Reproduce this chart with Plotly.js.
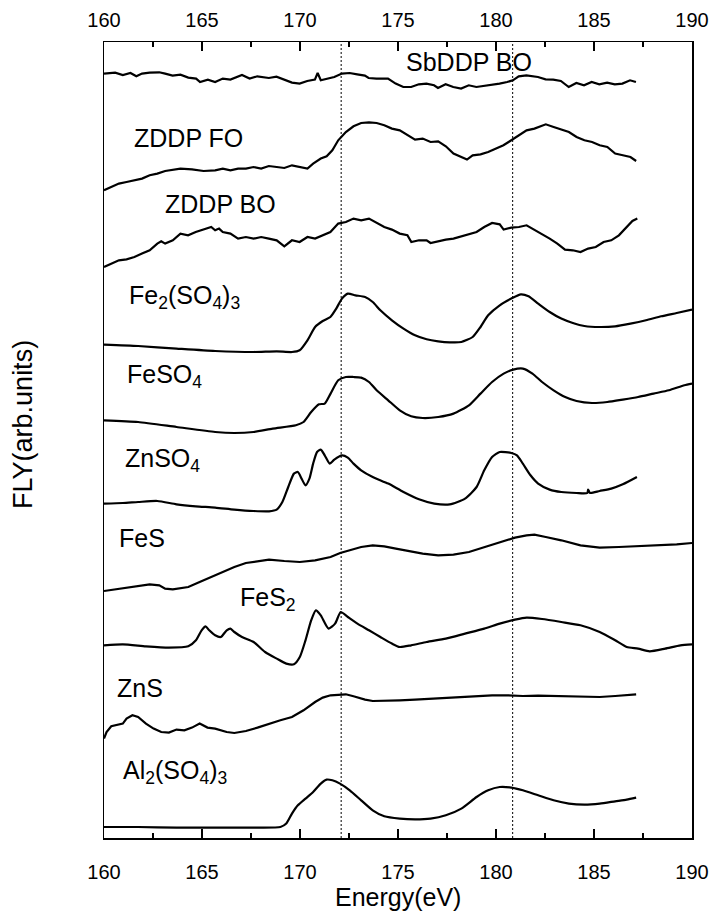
<!DOCTYPE html>
<html>
<head>
<meta charset="utf-8">
<script src="https://cdn.plot.ly/plotly-3.0.1.min.js"></script>
<style>
  html, body { margin: 0; padding: 0; background: #fff; }
  #chart { width: 712px; height: 911px; }
</style>
</head>
<body>
<div id="chart"></div>
<script>
// S L-edge XANES spectra (fluorescence yield), stacked with vertical offsets.
// Energies in eV, intensities in arbitrary units (offset included).

const sbddpBoEnergy = [160.0,160.57,160.96,161.35,161.65,161.94,162.33,162.82,163.12,163.5,163.9,164.3,164.7,164.9,165.3,165.67,166.06,166.45,167.04,167.43,167.82,168.41,168.8,169.2,169.59,169.98,170.37,170.76,170.9,171.06,171.35,171.75,172.14,172.53,172.92,173.31,173.5,173.9,174.49,174.88,175.27,175.67,176.06,176.45,176.84,177.04,177.43,177.82,178.22,178.61,179.0,179.39,179.78,180.18,180.57,180.86,181.16,181.55,182.14,182.53,182.92,183.31,183.71,184.1,184.49,184.88,185.27,185.67,186.06,186.45,186.84,187.14];
const sbddpBoFly = [764.4,765.4,763,765,761.7,764.4,765.4,765.7,764.4,762.4,763.4,760.4,759.4,756,758.4,756,759.4,758.4,763,759.4,761.7,760,761.4,758.4,755.4,754.4,757,758.4,765,757.7,759.4,761,764.4,765,763.7,762.4,760,759.4,759.4,754.4,751,751,753.7,754.4,752.7,750,753.7,751,749.4,752.7,751,752,752.7,754.4,756,757.7,761.7,762.7,761,758.7,758.4,757,751,755,752.7,756,753.7,755.4,753.7,754.4,757.7,756];

const zddpFoEnergy = [160.0,160.37,160.76,161.15,161.55,161.94,162.33,162.72,163.12,163.51,163.9,164.49,165.08,165.67,166.06,166.45,166.84,167.24,167.63,168.02,168.41,168.81,169.2,169.59,169.98,170.38,170.67,171.06,171.36,171.65,171.95,172.34,172.73,173.12,173.52,173.91,174.3,174.69,175.09,175.48,175.87,176.26,176.66,177.05,177.44,177.83,178.23,178.52,178.81,179.21,179.6,179.99,180.38,180.78,181.17,181.56,181.96,182.35,182.54,182.94,183.33,183.72,184.11,184.51,184.9,185.29,185.68,186.08,186.47,186.86,187.15];
const zddpFoFly = [647.7,651,654.4,656,657.7,659.4,662.7,664.4,667,668.4,669.4,668.7,667,667.7,669.4,667.7,669.4,669.4,671,669.4,672,671,670,672.7,671,669.4,674.4,679.4,681.7,687.7,697.7,706,711.7,715,715.7,715,712.7,709.4,707.7,702.7,698.4,699.4,696,696.7,691.7,684.4,681,678.4,682.7,683.7,686,689.4,692.7,697.7,702.7,707.7,709.4,712.7,713.7,711,708.4,706,701,697.7,696,692.7,691,684.4,682.7,681,677];

const zddpBoEnergy = [160.0,160.37,160.76,161.15,161.55,161.94,162.33,162.72,162.92,163.12,163.51,163.9,164.29,164.68,165.08,165.28,165.47,165.67,165.87,166.06,166.45,166.84,167.24,167.63,168.02,168.41,168.81,169.2,169.59,169.98,170.38,170.77,171.16,171.55,171.95,172.34,172.73,173.12,173.52,173.91,174.3,174.69,175.09,175.48,175.68,176.07,176.46,176.66,177.05,177.44,177.83,178.23,178.62,179.01,179.4,179.8,180.19,180.39,180.78,181.17,181.56,181.96,182.35,182.74,183.13,183.52,183.92,184.31,184.7,185.09,185.49,185.88,186.27,186.66,186.96,187.21];
const zddpBoFly = [571,574.4,577.7,578.7,581,584.4,587.7,594.4,596.7,594.4,597.7,604.4,602.7,606,608.4,609.4,611,607.7,609.4,606,604.4,599.4,601,599.4,601,599.4,597.7,591.7,597.7,596,601,599.4,602.7,606,614.4,616,619.4,617.7,619.4,615,611,608.4,604.4,602.7,596,597.7,597.7,595,597,598.4,599.4,601.7,604.4,606,611,615,613.7,608.4,610.4,611,612.7,608.4,604.4,599.4,594.4,588.4,587.7,586,589.4,591,596,597.7,602.7,611,617,619.4];

const fe2so43Energy = [160.0,161.74,163.7,165.67,167.63,168.81,169.59,169.98,170.38,170.77,171.16,171.55,171.85,172.14,172.44,172.83,173.32,173.71,174.1,174.69,175.28,175.87,176.46,177.05,177.64,178.23,178.81,179.21,179.6,180.19,180.78,181.27,181.66,182.15,182.74,183.33,183.92,184.51,185.29,186.08,186.86,187.65,188.43,189.22,190.0];
const fe2so43Fly = [493.4,492,489.4,487,486,486.7,486,487.7,497.7,511,517,521,529.4,539.4,544.4,542.7,541,536,527.7,517.7,509.4,502.7,498.7,496.7,495.7,496,501,511,522.7,532.7,539.4,543.7,541.7,534.4,526,519.4,515,512,511,511.7,514.4,517.7,521.7,525,528.4];

const feso4Energy = [160.0,161.74,163.7,165.67,166.65,167.63,168.61,169.79,170.18,170.57,170.97,171.26,171.56,171.95,172.34,172.73,173.12,173.52,173.91,174.5,175.09,175.67,176.26,177.05,177.83,178.62,179.21,179.8,180.39,180.88,181.37,181.86,182.35,182.94,183.53,184.11,184.9,185.68,186.47,187.25,188.04,188.82,189.61,190.0];
const feso4Fly = [417.7,416,411,406,405,406,409.4,412.7,416,426,433.7,434.4,444.4,457.7,461,461,460.4,456,447.7,437.7,427.7,421.7,420,421,424.4,432.7,444.4,456,464.4,468.4,469.4,464.4,456,447.7,441,437,435,436,438.4,441,444.4,447.7,452.7,454.4];

const znso4Energy = [160.0,160.96,161.74,162.72,163.7,164.68,165.67,166.65,167.63,168.42,168.81,169.1,169.4,169.69,169.89,170.08,170.28,170.48,170.67,170.87,171.06,171.26,171.52,171.75,172.14,172.44,172.73,173.12,173.71,174.5,175.28,176.07,176.85,177.64,178.42,179.01,179.4,179.8,180.19,180.78,181.07,181.37,181.76,182.15,182.74,183.33,184.11,184.66,184.7,184.8,185.29,185.88,186.47,187.19];
const znso4Fly = [334.4,335,336,337,333.7,331.7,330.4,328.4,327,326.7,328.4,336,351,364.4,366,359.4,352.7,359.4,374.4,386,388.4,382.7,374.4,378.4,382.7,380.4,374.4,367.7,361,354.4,346,338.7,334.4,333.7,339.4,351,367.7,381,386,385,382.7,374.4,362.7,354.4,348.4,346,345,345,348.4,345,347,349.4,353.7,361];

const fesEnergy = [160.0,160.76,161.74,162.33,162.82,163.12,163.51,164.3,164.88,165.47,166.06,166.65,167.24,167.83,168.42,169.2,169.99,170.77,171.56,172.05,172.54,173.12,173.71,174.3,174.89,175.48,176.26,177.05,177.83,178.62,179.4,180.19,180.97,181.56,181.96,182.54,183.33,184.31,185.29,186.27,187.25,188.24,189.22,190.0];
const fesFly = [247,249.4,252,253.7,252.7,249.4,248.7,251,256,261,266,271,275,277,278.4,277,276,277.7,281,285,287.7,291,292.7,291.7,289.4,287,284.4,282.7,283.4,286,291,296,300.4,302.7,303.4,301,297.7,292.7,290.4,291,291.7,292.7,293.7,295];

const fes2Energy = [160.0,160.96,162.14,163.31,164.3,164.69,164.98,165.18,165.37,165.67,165.96,166.26,166.45,166.65,167.04,167.63,168.22,168.81,169.3,169.69,169.99,170.28,170.57,170.81,171.06,171.46,171.79,172.08,172.44,172.93,173.52,174.1,174.69,175.09,175.67,176.46,177.44,178.42,179.4,180.19,180.97,181.56,182.35,183.33,184.31,185.29,186.08,186.67,187.25,187.84,188.63,189.41,190.0];
const fes2Fly = [192.7,193.7,191.7,190.4,191.7,197.7,207.7,211.7,207.7,202.7,201,207.7,209.4,206,201,196,186,179.4,174.4,173.7,181,197.7,217.7,227.7,222.7,209.4,214.4,226,221,214.4,207.7,201,194.4,191,192.7,196,199.4,204.4,209.4,214.4,218.4,220.4,219,216,212.7,206,197.7,191,189.4,186.7,189.4,192.7,193.7];

const znsEnergy = [160.0,160.13,160.37,160.66,160.96,161.15,161.45,161.74,162.14,162.53,162.92,163.31,163.7,164.1,164.49,164.88,165.28,165.67,166.26,166.65,167.24,167.83,168.42,169.0,169.59,170.18,170.77,171.16,171.56,171.95,172.34,172.73,173.32,173.71,174.3,175.09,175.87,176.66,177.44,178.23,179.01,179.8,180.58,181.37,182.15,182.94,183.72,184.51,185.29,186.08,186.67,187.15];
const znsFly = [99.4,106,111.7,112.7,114.4,119.4,122.7,121,114.4,109.4,106,105.4,108.4,107.7,110.4,114.4,110.4,109.4,106,105,107,110.4,114.4,117.7,121,127.7,136,140.4,142.7,143.4,143.7,141.7,138.4,137,137,137.7,138.4,139.4,140.4,141,142,142.7,142.7,142,142.4,142,141.7,141.7,141,142,142.7,143.7];

const al2so43Energy = [160.0,161.74,163.7,165.67,167.63,169.0,169.3,169.59,169.89,170.28,170.67,171.06,171.36,171.65,172.04,172.54,173.12,173.71,174.3,175.09,175.87,176.66,177.44,178.23,179.01,179.6,180.19,180.78,181.37,182.15,182.94,183.72,184.51,185.29,186.08,186.67,187.15];
const al2so43Fly = [11,11,10.4,10.4,10.4,11,14.4,24.4,32.7,39.4,46,54.4,58.4,57.7,54.4,47.7,37.7,27.7,21.7,19.4,18.7,19.4,22.7,29.4,41,47.7,51,50.4,47.7,42.7,37.7,34.4,33.4,34.4,36.7,38.4,40.4];

// Reference energies marked with dotted vertical lines (eV)
const referenceEnergies = [172.1, 180.85];

// Axis ticks
const tickValues = [160, 165, 170, 175, 180, 185, 190];
const tickLabels = ['160', '165', '170', '175', '180', '185', '190'];

const FONT = 'Liberation Sans, Arial, Helvetica, sans-serif';

const spectra = [
  { name: 'SbDDP BO', x: sbddpBoEnergy, y: sbddpBoFly, smooth: false },
  { name: 'ZDDP FO', x: zddpFoEnergy, y: zddpFoFly, smooth: false },
  { name: 'ZDDP BO', x: zddpBoEnergy, y: zddpBoFly, smooth: false },
  { name: 'Fe2(SO4)3', x: fe2so43Energy, y: fe2so43Fly, smooth: true },
  { name: 'FeSO4', x: feso4Energy, y: feso4Fly, smooth: true },
  { name: 'ZnSO4', x: znso4Energy, y: znso4Fly, smooth: true },
  { name: 'FeS', x: fesEnergy, y: fesFly, smooth: false },
  { name: 'FeS2', x: fes2Energy, y: fes2Fly, smooth: true },
  { name: 'ZnS', x: znsEnergy, y: znsFly, smooth: false },
  { name: 'Al2(SO4)3', x: al2so43Energy, y: al2so43Fly, smooth: true }
];

const traces = spectra.map(s => ({
  type: 'scatter',
  mode: 'lines',
  name: s.name,
  x: s.x,
  y: s.y,
  line: s.smooth
    ? { color: '#000', width: 2.2, shape: 'spline', smoothing: 0.6 }
    : { color: '#000', width: 2.2, shape: 'linear' },
  hoverinfo: 'skip'
}));

// empty trace so the top energy axis has a subplot to live on
traces.push({ type: 'scatter', mode: 'lines', x: [], y: [], xaxis: 'x2', yaxis: 'y', hoverinfo: 'skip', showlegend: false });

const tickFont = { family: FONT, size: 20, color: '#000' };

function energyAxis(extra) {
  return Object.assign({
    range: [160, 190],
    tickmode: 'array',
    tickvals: tickValues,
    ticktext: tickLabels,
    ticks: 'inside',
    ticklen: 9,
    tickwidth: 1.5,
    tickcolor: '#000',
    minor: { dtick: 2.5, tick0: 160, ticks: 'inside', ticklen: 5, tickwidth: 1.5, tickcolor: '#000' },
    showline: true,
    linecolor: '#000',
    linewidth: 1.5,
    showgrid: false,
    zeroline: false,
    tickfont: tickFont,
    fixedrange: true
  }, extra);
}

const labelStyle = { family: FONT, size: 25, color: '#000' };
function label(text, x, y) {
  return { text: text, x: x, y: y, xref: 'x', yref: 'y', xanchor: 'left', yanchor: 'middle',
           showarrow: false, font: labelStyle };
}

const layout = {
  width: 712,
  height: 911,
  margin: { l: 104, r: 20, t: 42, b: 73 },
  paper_bgcolor: '#fff',
  plot_bgcolor: '#fff',
  showlegend: false,
  xaxis: energyAxis({ side: 'bottom', anchor: 'y', ticklabelstandoff: 15 }),
  xaxis2: energyAxis({ side: 'top', overlaying: 'x', anchor: 'y', ticklabelstandoff: 6 }),
  yaxis: {
    range: [0, 796],
    showline: true,
    mirror: true,
    linecolor: '#000',
    linewidth: 1.5,
    ticks: '',
    showticklabels: false,
    showgrid: false,
    zeroline: false,
    fixedrange: true
  },
  shapes: referenceEnergies.map(e => ({
    type: 'line', xref: 'x', yref: 'paper', x0: e, x1: e, y0: 0, y1: 1,
    line: { color: '#000', width: 1, dash: '2px,2px' }, layer: 'below'
  })),
  annotations: [
    label('SbDDP BO', 175.29, 775.7),
    label('ZDDP FO', 161.45, 699.7),
    label('ZDDP BO', 163.02, 633.7),
    label('Fe<sub>2</sub>(SO<sub>4</sub>)<sub>3</sub>', 161.16, 540.7),
    label('FeSO<sub>4</sub>', 161.06, 461.7),
    label('ZnSO<sub>4</sub>', 160.95, 377.7),
    label('FeS', 160.65, 300.2),
    label('FeS<sub>2</sub>', 166.85, 238.7),
    label('ZnS', 160.55, 150),
    label('Al<sub>2</sub>(SO<sub>4</sub>)<sub>3</sub>', 160.85, 65.7),
    {
      text: 'Energy(eV)', xref: 'paper', yref: 'paper', x: 0.5, y: -0.074,
      xanchor: 'center', yanchor: 'middle', showarrow: false, borderpad: 0,
      font: { family: FONT, size: 25, color: '#000' }
    },
    {
      text: 'FLY(arb.units)', xref: 'paper', yref: 'paper', x: -0.138, y: 0.52,
      xanchor: 'center', yanchor: 'middle', textangle: -90, showarrow: false,
      font: { family: FONT, size: 27, color: '#000' }
    }
  ]
};

Plotly.newPlot('chart', traces, layout, { staticPlot: true, displayModeBar: false });
</script>
</body>
</html>
